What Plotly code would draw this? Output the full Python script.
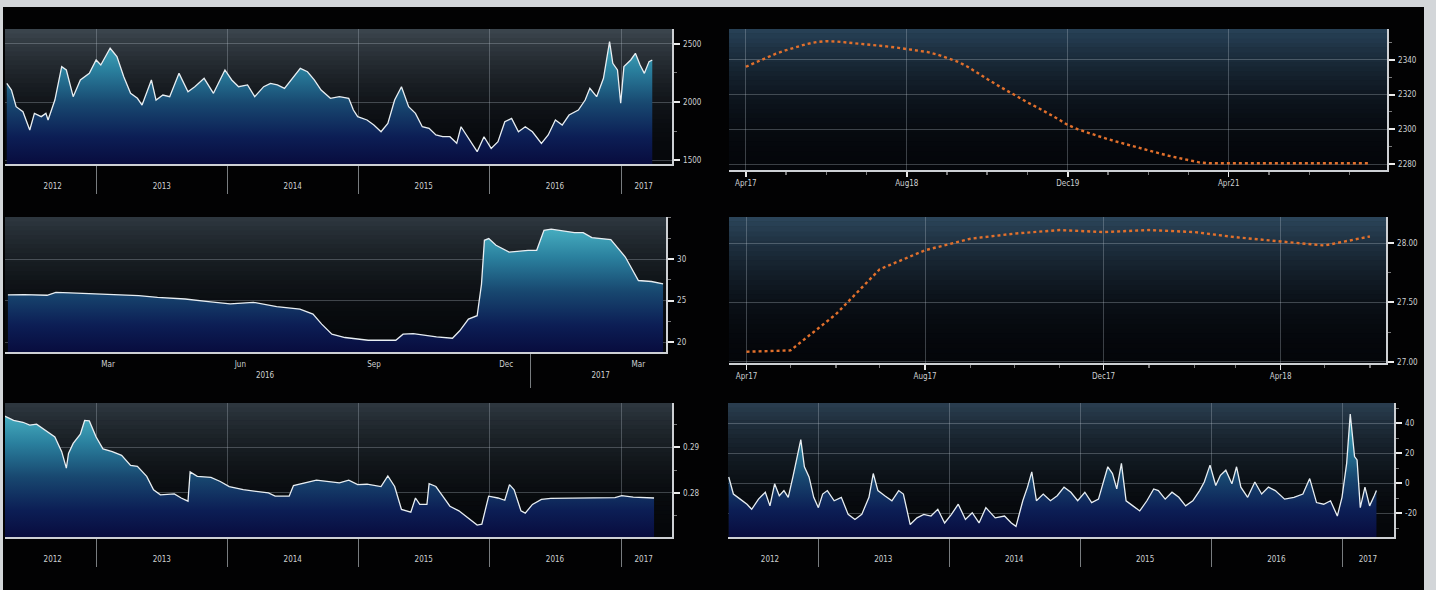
import plotly.graph_objects as go
import pandas as pd

W, H = 1436, 590

# ------------------------------------------------------------------ data
p1_dates = ["2012-04-25","2012-05-08","2012-05-21","2012-06-09","2012-06-28","2012-07-11","2012-07-30","2012-08-12",
            "2012-08-18","2012-09-06","2012-09-25","2012-10-08","2012-10-27","2012-11-16","2012-12-11","2012-12-30",
            "2013-01-12","2013-02-07","2013-02-26","2013-03-17","2013-04-05","2013-04-24","2013-05-07","2013-06-02",
            "2013-06-15","2013-07-04","2013-07-23","2013-08-18","2013-09-12","2013-10-01","2013-10-27","2013-11-22",
            "2013-12-24","2014-01-12","2014-01-31","2014-02-25","2014-03-17","2014-04-11","2014-04-30","2014-05-19",
            "2014-06-08","2014-07-03","2014-07-22","2014-08-11","2014-08-30","2014-09-18","2014-10-14","2014-11-08",
            "2014-12-04","2014-12-17","2014-12-29","2015-01-24","2015-02-12","2015-03-04","2015-03-23","2015-04-11",
            "2015-04-30","2015-05-20","2015-06-08","2015-06-27","2015-07-16","2015-08-04","2015-08-23","2015-09-12",
            "2015-10-01","2015-10-13","2015-11-02","2015-11-27","2015-12-16","2016-01-05","2016-01-24","2016-02-12",
            "2016-03-02","2016-03-21","2016-04-09","2016-04-29","2016-05-24","2016-06-12","2016-07-02","2016-07-21",
            "2016-08-09","2016-09-04","2016-09-23","2016-10-06","2016-10-25","2016-11-13","2016-11-30","2016-12-09",
            "2016-12-22","2016-12-31","2017-01-09","2017-01-28","2017-02-10","2017-02-23","2017-03-07","2017-03-20",
            "2017-03-29"]
p1_values = [2161,2103,1960,1917,1759,1902,1874,1902,1845,2017,2305,2276,2046,2190,2247,2362,
             2319,2463,2391,2218,2075,2032,1974,2190,2017,2060,2046,2247,2089,2132,2204,2075,
             2276,2190,2132,2147,2046,2132,2161,2147,2118,2218,2290,2261,2190,2103,2032,2046,
             2032,1931,1874,1845,1802,1744,1816,2017,2132,1960,1902,1787,1773,1716,1701,1701,
             1644,1787,1687,1572,1701,1600,1658,1830,1859,1744,1787,1744,1644,1716,1845,1802,
             1888,1931,2017,2118,2046,2204,2520,2333,2276,1989,2305,2362,2420,2319,2247,2348,
             2362]

p2_dates = pd.date_range("2017-04-01", periods=63, freq="MS")
p2_values = [2336,2338.5,2341,2343.5,2345.5,2347.5,2349,2350.2,2350.7,2350.5,2350,2349.5,2349,2348.3,2347.7,
             2347,2346.3,2345.5,2344.5,2343,2341,2339,2336,2332.5,2329,2325.5,2322,2319,2315.5,2312.5,
             2309.5,2306,2302.5,2300,2298,2296,2294.3,2292.7,2291,2289.5,2288,2286.3,2284.8,2283.5,2282.2,
             2281,2280.5,2280.5,2280.5,2280.5,2280.5,2280.5,2280.5,2280.5,2280.5,2280.5,2280.5,2280.5,2280.5,
             2280.5,2280.5,2280.5,2280.5]

p3_dates = ["2016-01-07","2016-01-18","2016-02-03","2016-02-09","2016-02-19","2016-03-06","2016-03-21","2016-04-06",
            "2016-04-19","2016-05-08","2016-05-24","2016-06-08","2016-06-24","2016-07-10","2016-07-26","2016-08-04",
            "2016-08-10","2016-08-17","2016-08-26","2016-09-11","2016-09-30","2016-10-05","2016-10-12","2016-10-28",
            "2016-11-08","2016-11-13","2016-11-19","2016-11-25","2016-11-28","2016-11-30","2016-12-03","2016-12-08",
            "2016-12-17","2016-12-30","2017-01-05","2017-01-10","2017-01-15","2017-01-31","2017-02-06","2017-02-12",
            "2017-02-25","2017-03-07","2017-03-16","2017-03-25","2017-04-02"]
p3_values = [25.69,25.73,25.65,26.0,25.93,25.81,25.73,25.61,25.4,25.2,24.88,24.6,24.8,24.27,23.99,23.38,
             22.17,20.95,20.55,20.22,20.22,20.95,21.03,20.63,20.46,21.36,22.77,23.18,27.0,32.29,32.49,31.68,
             30.87,31.08,31.08,33.5,33.63,33.22,33.22,32.61,32.37,30.27,27.43,27.31,27.03]

p4_dates = pd.date_range("2017-04-01", periods=15, freq="MS")
p4_values = [27.085,27.096,27.40,27.78,27.94,28.037,28.08,28.11,28.093,28.11,28.093,28.05,28.014,27.98,28.056]

p5_dates = ["2012-04-18","2012-05-14","2012-06-09","2012-06-28","2012-07-17","2012-08-12","2012-09-06","2012-09-25",
            "2012-10-08","2012-10-14","2012-10-27","2012-11-16","2012-11-28","2012-12-11","2012-12-30","2013-01-18",
            "2013-02-13","2013-03-11","2013-04-05","2013-04-24","2013-05-20","2013-06-08","2013-06-27","2013-08-05",
            "2013-08-24","2013-09-12","2013-09-18","2013-10-08","2013-11-15","2013-12-11","2014-01-05","2014-02-13",
            "2014-03-23","2014-04-24","2014-05-13","2014-06-21","2014-07-03","2014-09-05","2014-11-08","2014-12-04",
            "2014-12-29","2015-01-24","2015-03-04","2015-03-23","2015-04-11","2015-04-30","2015-05-26","2015-06-08",
            "2015-06-20","2015-07-10","2015-07-16","2015-08-04","2015-08-23","2015-09-12","2015-10-07","2015-11-02",
            "2015-11-27","2015-12-10","2015-12-29","2016-01-24","2016-02-12","2016-02-25","2016-03-09","2016-03-28",
            "2016-04-09","2016-04-29","2016-05-24","2016-06-19","2016-08-22","2016-10-25","2016-12-15","2017-01-03",
            "2017-02-04","2017-04-03"]
p5_values = [0.2968,0.2958,0.2954,0.2948,0.2950,0.2936,0.2922,0.2890,0.2854,0.2886,0.2908,0.2928,0.2958,0.2957,
             0.2922,0.2896,0.2890,0.2882,0.2860,0.2858,0.2836,0.2807,0.2796,0.2798,0.2789,0.2782,0.2846,0.2836,
             0.2834,0.2825,0.2814,0.2807,0.2804,0.2800,0.2793,0.2793,0.2816,0.2828,0.2822,0.2828,0.2818,0.2819,
             0.2814,0.2837,0.2814,0.2764,0.2758,0.2789,0.2775,0.2775,0.2820,0.2814,0.2793,0.2771,0.2761,0.2746,
             0.2730,0.2732,0.2793,0.2789,0.2784,0.2818,0.2807,0.2761,0.2756,0.2775,0.2786,0.2788,0.2789,0.2789,
             0.2790,0.2794,0.2791,0.2789]

p6_dates = ["2012-04-26","2012-05-09","2012-05-28","2012-06-16","2012-06-29","2012-07-18","2012-08-06","2012-08-19",
            "2012-09-01","2012-09-14","2012-09-27","2012-10-09","2012-10-22","2012-11-04","2012-11-13","2012-11-23",
            "2012-12-06","2012-12-19","2013-01-01","2013-01-13","2013-01-26","2013-02-14","2013-03-06","2013-03-25",
            "2013-04-13","2013-05-02","2013-05-22","2013-06-03","2013-06-16","2013-07-05","2013-07-25","2013-08-13",
            "2013-08-26","2013-09-14","2013-10-03","2013-10-22","2013-11-11","2013-11-30","2013-12-19","2014-01-07",
            "2014-01-26","2014-02-15","2014-03-06","2014-03-25","2014-04-13","2014-05-09","2014-06-04","2014-06-23",
            "2014-07-06","2014-07-25","2014-08-07","2014-08-19","2014-09-01","2014-09-20","2014-10-10","2014-10-29",
            "2014-11-17","2014-12-06","2014-12-25","2015-01-14","2015-02-02","2015-02-21","2015-03-06","2015-03-19",
            "2015-04-01","2015-04-13","2015-04-26","2015-05-09","2015-05-28","2015-06-16","2015-07-06","2015-07-25",
            "2015-08-07","2015-08-26","2015-09-14","2015-10-03","2015-10-22","2015-11-11","2015-11-30","2015-12-13",
            "2015-12-29","2016-01-14","2016-01-27","2016-02-11","2016-02-28","2016-03-12","2016-03-24","2016-04-12",
            "2016-05-02","2016-05-21","2016-06-09","2016-06-28","2016-07-24","2016-08-19","2016-09-13","2016-10-02",
            "2016-10-21","2016-11-10","2016-11-29","2016-12-18","2016-12-31","2017-01-13","2017-01-23","2017-02-04",
            "2017-02-11","2017-02-20","2017-03-05","2017-03-18","2017-03-31","2017-04-06"]
p6_values = [4.1,-7.3,-10.7,-14.1,-17.5,-10.7,-6.1,-15.2,-0.5,-8.4,-5,-9.5,4.1,17.7,29,10.9,
             4.1,-9.5,-16.4,-7.3,-5,-11.8,-9.5,-20.9,-24.3,-20.9,-9.5,6.4,-5,-8.4,-11.8,-5,
             -7.3,-27.7,-23.2,-20.9,-22,-17.5,-26.6,-20.9,-14.1,-24.3,-19.8,-26.6,-16.4,-23.2,-22,-26.6,
             -28.9,-11.8,-2.7,7.5,-11.8,-7.3,-11.8,-8.4,-2.7,-6.1,-11.8,-6.1,-13,-10.7,-0.5,10.9,
             6.4,-3.9,13.2,-11.8,-15.2,-18.6,-11.8,-3.9,-5,-10.7,-6.1,-9.5,-15.2,-11.8,-5,0.7,
             12,-1.6,5.2,8.6,-0.5,10.9,-2.7,-9.5,0.7,-7.3,-2.7,-5,-10.7,-9.5,-7.3,3,
             -13,-14.1,-11.8,-22,-9.5,13.2,46.1,17.7,15.5,-16.4,-2.7,-15.2,-8.4,-5]

# tick labels
year_labels = ["2012", "2013", "2014", "2015", "2016", "2017"]
year_label_pos_left = ["2012-08-31", "2013-07-01", "2014-07-01", "2015-07-01", "2016-07-01", "2017-03-05"]
year_label_pos_right = ["2012-08-19", "2013-07-01", "2014-07-01", "2015-07-01", "2016-07-01", "2017-03-13"]
year_starts = ["2013-01-01", "2014-01-01", "2015-01-01", "2016-01-01", "2017-01-01"]
p2_tick_labels = ["Apr17", "Aug18", "Dec19", "Apr21"]
p2_tick_pos = ["2017-04-01", "2018-08-01", "2019-12-01", "2021-04-01"]
p4_tick_labels = ["Apr17", "Aug17", "Dec17", "Apr18"]
p4_tick_pos = ["2017-04-01", "2017-08-01", "2017-12-01", "2018-04-01"]
p3_tick_labels = ["Mar", "Jun", "<br>2016", "Sep", "Dec", "<br>2017", "Mar"]
p3_tick_pos = ["2016-03-16", "2016-06-15", "2016-07-02", "2016-09-15", "2016-12-15", "2017-02-18", "2017-03-16"]
p3_quarters = ["2016-04-01", "2016-07-01", "2016-10-01", "2017-01-01", "2017-04-01"]

# ------------------------------------------------------------------ style
FONT = "Liberation Sans Narrow, DejaVu Sans Condensed, Arial Narrow, sans-serif"
LABEL_C = "rgb(205,208,210)"
LINE_C = "rgb(205,208,212)"
GRID_C = "rgba(190,200,210,0.30)"
SEP_C = "rgba(160,165,170,0.75)"
FILL_CS = [[0.0, "rgb(8,12,62)"], [0.2, "rgb(12,30,85)"], [0.45, "rgb(24,72,112)"],
           [0.7, "rgb(42,128,158)"], [1.0, "rgb(82,192,206)"]]
ORANGE = "rgb(226,112,44)"

# panel geometry in pixels: (left, right), (top, bottom)
geom = {
    1: ((5, 672), (29, 164)),
    2: ((729, 1387), (29, 170)),
    3: ((5, 666), (217, 352)),
    4: ((729, 1386), (217, 363)),
    5: ((5, 672), (403, 537)),
    6: ((728, 1394), (403, 537)),
}
x_ranges = {
    1: ["2012-04-20", "2017-05-23"],
    2: ["2017-02-09", "2022-07-24"],
    3: ["2016-01-05", "2017-04-04"],
    4: ["2017-03-20", "2018-06-12"],
    5: ["2012-04-20", "2017-05-23"],
    6: ["2012-04-24", "2017-05-25"],
}
y_ranges = {
    1: [1466, 2629],
    2: [2276.6, 2357.7],
    3: [18.8, 35.1],
    4: [26.99, 28.22],
    5: [0.2704, 0.2996],
    6: [-36, 53.5],
}
y_ticks = {
    1: ([1500, 2000, 2500], ["1500", "2000", "2500"], 250),
    2: ([2280, 2300, 2320, 2340], ["2280", "2300", "2320", "2340"], 10),
    3: ([20, 25, 30], ["20", "25", "30"], 2.5),
    4: ([27.0, 27.5, 28.0], ["27.00", "27.50", "28.00"], 0.25),
    5: ([0.28, 0.29], ["0.28", "0.29"], 0.005),
    6: ([-20, 0, 20, 40], ["-20", "0", "20", "40"], 10),
}
bg_colors = {
    1: ((60, 70, 78), (6, 8, 12)),
    2: ((40, 66, 88), (4, 6, 10)),
    3: ((46, 56, 64), (5, 7, 10)),
    4: ((44, 70, 92), (4, 6, 10)),
    5: ((46, 56, 64), (5, 7, 10)),
    6: ((42, 62, 80), (5, 7, 10)),
}


def sfx(n):
    return "" if n == 1 else str(n)


fig = go.Figure()

# ------------------------------------------------------------------ traces
def area(n, dates, vals, baseline=False):
    xa, ya = "x" + sfx(n), "y" + sfx(n)
    lo, hi = y_ranges[n]
    fill = "tozeroy"
    if baseline:
        fig.add_trace(go.Scatter(x=dates, y=[lo] * len(dates), mode="lines", line=dict(width=0),
                                 hoverinfo="skip", showlegend=False, xaxis=xa, yaxis=ya))
        fill = "tonexty"
    fig.add_trace(go.Scatter(
        x=dates, y=vals, mode="lines", fill=fill,
        fillgradient=dict(type="vertical", colorscale=FILL_CS, start=lo, stop=hi),
        line=dict(color="rgb(232,238,242)", width=1.3),
        showlegend=False, xaxis=xa, yaxis=ya))


def curve(n, dates, vals):
    fig.add_trace(go.Scatter(
        x=dates, y=vals, mode="lines",
        line=dict(color=ORANGE, width=2.4, dash="dot"),
        showlegend=False, xaxis="x" + sfx(n), yaxis="y" + sfx(n)))


area(1, p1_dates, p1_values)
curve(2, p2_dates, p2_values)
area(3, p3_dates, p3_values)
curve(4, p4_dates, p4_values)
area(5, p5_dates, p5_values)
area(6, p6_dates, p6_values, baseline=True)

# ------------------------------------------------------------------ axes
layout = {}
tickfont = dict(family=FONT, size=8, color=LABEL_C)

for n, ((l, r), (t, b)) in geom.items():
    xd = [l / W, r / W]
    yd = [1 - b / H, 1 - t / H]
    tv, tt, mdt = y_ticks[n]
    layout["yaxis" + sfx(n)] = dict(
        domain=yd, anchor="x" + sfx(n), side="right", range=y_ranges[n],
        tickmode="array", tickvals=tv, ticktext=tt,
        ticks="outside", ticklen=6, tickwidth=2, tickcolor="rgb(235,235,235)",
        showgrid=True, gridcolor=GRID_C, gridwidth=1, zeroline=False,
        showline=True, linecolor=LINE_C, linewidth=1.5,
        tickfont=tickfont, ticklabelstandoff=2,
        minor=dict(dtick=mdt, tick0=tv[0], ticks="outside", ticklen=3, tickwidth=1,
                   tickcolor="rgba(200,200,200,0.6)", showgrid=False),
    )
    xbase = dict(domain=xd, anchor="y" + sfx(n), range=x_ranges[n], type="date",
                 showline=True, linecolor=LINE_C, linewidth=1.5, zeroline=False,
                 tickfont=tickfont)
    layout["xaxis" + sfx(n)] = xbase

# year-based panels (1, 5, 6) with quarterly overlay ticks
overlay_id = 7
for n, pos in ((1, year_label_pos_left), (5, year_label_pos_left), (6, year_label_pos_right)):
    layout["xaxis" + sfx(n)].update(
        tickmode="array", tickvals=pos, ticktext=year_labels, ticks="", showgrid=False,
        ticklabelstandoff=14,
        minor=dict(tickmode="array", tickvals=year_starts, ticks="outside", ticklen=28,
                   tickwidth=1, tickcolor=SEP_C, showgrid=True, gridcolor=GRID_C, gridwidth=1),
    )
    quarters = [d.strftime("%Y-%m-%d") for d in pd.date_range("2012-04-01", "2017-04-01", freq="QS")
                if d.month != 1]
    layout["xaxis" + str(overlay_id)] = dict(
        overlaying="x" + sfx(n), anchor="y" + sfx(n), range=x_ranges[n], type="date",
        tickmode="array", tickvals=quarters, ticks="outside", ticklen=4, tickwidth=1,
        tickcolor="rgb(220,220,220)", showticklabels=False, showgrid=False, showline=False,
        zeroline=False)
    overlay_id += 1

# panel 3: month labels + year row, quarter grid, monthly ticks
layout["xaxis3"].update(
    tickmode="array", tickvals=p3_tick_pos, ticktext=p3_tick_labels, ticks="", showgrid=False,
    ticklabelstandoff=4,
    minor=dict(tickmode="array", tickvals=["2017-01-01"], ticks="outside", ticklen=34,
               tickwidth=1, tickcolor=SEP_C, showgrid=False),
)
layout["xaxis" + str(overlay_id)] = dict(
    overlaying="x3", anchor="y3", range=x_ranges[3], type="date",
    tickmode="array", tickvals=p3_quarters, ticks="outside", ticklen=4, tickwidth=1,
    tickcolor="rgb(220,220,220)", showticklabels=False, showgrid=True, gridcolor=GRID_C,
    showline=False, zeroline=False,
    minor=dict(dtick="M1", tick0="2016-01-01", ticks="outside", ticklen=3, tickwidth=1,
               tickcolor="rgb(200,200,200)", showgrid=False))

# panels 2 and 4
layout["xaxis2"].update(
    tickmode="array", tickvals=p2_tick_pos, ticktext=p2_tick_labels,
    ticks="outside", ticklen=5, tickwidth=1.5, tickcolor="rgb(230,230,230)",
    showgrid=True, gridcolor=GRID_C,
    minor=dict(dtick="M4", tick0="2017-04-01", ticks="outside", ticklen=3,
               tickcolor="rgba(200,200,200,0.6)", showgrid=False))
layout["xaxis4"].update(
    tickmode="array", tickvals=p4_tick_pos, ticktext=p4_tick_labels,
    ticks="outside", ticklen=5, tickwidth=1.5, tickcolor="rgb(230,230,230)",
    showgrid=True, gridcolor=GRID_C,
    minor=dict(dtick="M1", tick0="2017-04-01", ticks="outside", ticklen=3,
               tickcolor="rgba(200,200,200,0.6)", showgrid=False))

# ------------------------------------------------------------------ backgrounds
shapes = [dict(type="rect", xref="paper", yref="paper", x0=3 / W, x1=1424 / W, y0=0, y1=1 - 7 / H,
               fillcolor="rgb(2,2,3)", line_width=0, layer="below")]
NB = 30
for n in geom:
    top, bot = bg_colors[n]
    for i in range(NB):
        t0, t1 = i / NB, (i + 1) / NB
        f = ((t0 + t1) / 2) ** 2.0
        c = tuple(int(round(bot[k] + (top[k] - bot[k]) * f)) for k in range(3))
        shapes.append(dict(type="rect", xref="x" + sfx(n) + " domain", yref="y" + sfx(n) + " domain",
                           x0=0, x1=1, y0=t0, y1=min(1, t1 + 0.004),
                           fillcolor="rgb(%d,%d,%d)" % c, line_width=0, layer="below"))

fig.update_layout(
    width=W, height=H, margin=dict(l=0, r=0, t=0, b=0, autoexpand=False),
    paper_bgcolor="rgb(211,214,217)", plot_bgcolor="rgba(0,0,0,0)",
    showlegend=False, shapes=shapes, font=dict(family=FONT, color=LABEL_C),
    hovermode=False,
    **layout,
)

fig.write_html("out.html", config={"displayModeBar": False, "staticPlot": True},
               post_script="document.body.style.margin='0';document.body.style.overflow='hidden';")
